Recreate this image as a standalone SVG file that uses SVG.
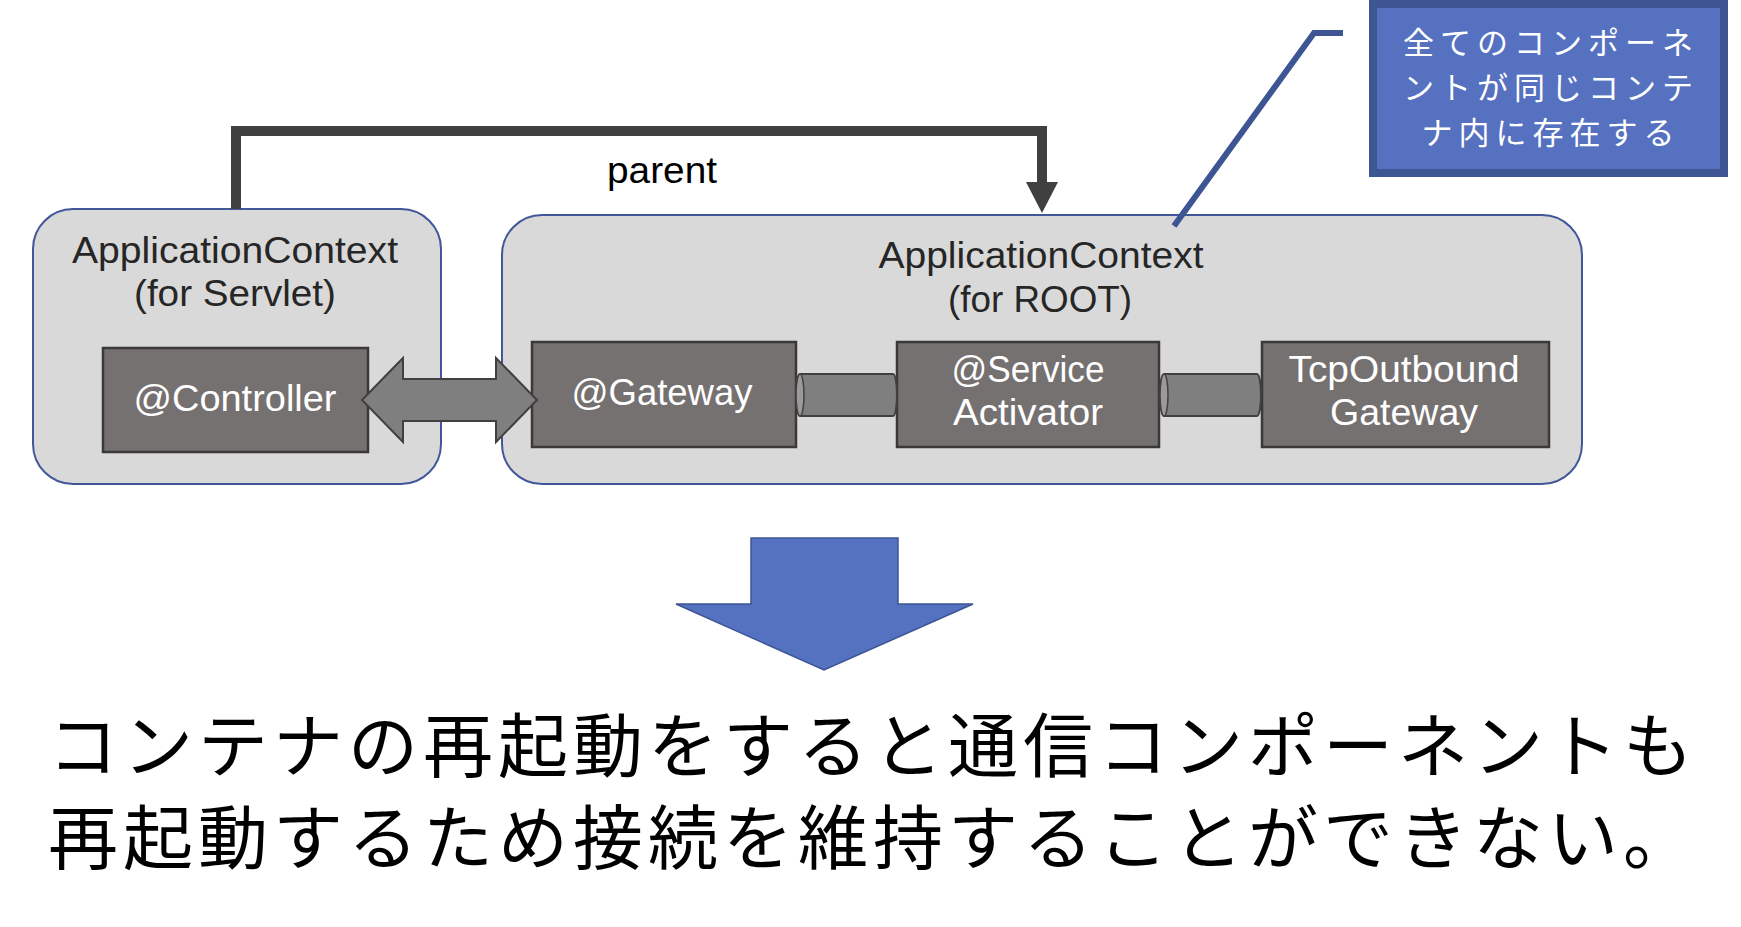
<svg xmlns="http://www.w3.org/2000/svg" width="1741" height="927" viewBox="0 0 1741 927">
<defs>
<style>
.ctx{fill:#D9D9D9;stroke:#41579A;stroke-width:2}
.comp{fill:#767171;stroke:#3B3838;stroke-width:2.5}
.t{font-family:"Liberation Sans",Arial,sans-serif;text-anchor:middle}
.dark{fill:#262626;font-size:36px}
.white{fill:#FFFFFF;font-size:36px}
.jp{font-family:"Noto Sans CJK JP",sans-serif}
.co{fill:#FFFFFF;font-size:31px;letter-spacing:6px}
.pipe{fill:#7F7F7F;stroke:#404040;stroke-width:2}
.cap{fill:#9A9A9A;stroke:#404040;stroke-width:1.5}
</style>
</defs>
<rect width="1741" height="927" fill="#FFFFFF"/>

<g id="ctx-servlet">
<rect class="ctx" x="33" y="209" width="408" height="275" rx="40" ry="40"/>
<text class="t dark" x="235" y="263" textLength="326" lengthAdjust="spacingAndGlyphs">ApplicationContext</text>
<text class="t dark" x="235" y="306" textLength="202" lengthAdjust="spacingAndGlyphs">(for Servlet)</text>
</g>

<g id="ctx-root">
<rect class="ctx" x="502" y="215" width="1080" height="269" rx="40" ry="40"/>
<text class="t dark" x="1041" y="268" textLength="325" lengthAdjust="spacingAndGlyphs">ApplicationContext</text>
<text class="t dark" x="1040" y="312" textLength="184" lengthAdjust="spacingAndGlyphs">(for ROOT)</text>
</g>

<g id="controller">
<rect class="comp" x="103" y="348" width="265" height="104"/>
<text class="t white" x="235" y="411" textLength="203" lengthAdjust="spacingAndGlyphs">@Controller</text>
</g>

<g id="gateway">
<rect class="comp" x="532" y="342" width="264" height="105"/>
<text class="t white" x="662" y="405" textLength="181" lengthAdjust="spacingAndGlyphs">@Gateway</text>
</g>

<g id="service-activator">
<rect class="comp" x="897" y="342" width="262" height="105"/>
<text class="t white" x="1028" y="382" textLength="153" lengthAdjust="spacingAndGlyphs">@Service</text>
<text class="t white" x="1028" y="425" textLength="150" lengthAdjust="spacingAndGlyphs">Activator</text>
</g>

<g id="tcp-outbound">
<rect class="comp" x="1262" y="342" width="287" height="105"/>
<text class="t white" x="1404" y="382" textLength="231" lengthAdjust="spacingAndGlyphs">TcpOutbound</text>
<text class="t white" x="1404" y="425" textLength="148" lengthAdjust="spacingAndGlyphs">Gateway</text>
</g>

<g id="callout">
<rect x="1373" y="4" width="351" height="169" fill="#5571C0" stroke="#3E5594" stroke-width="8"/>
<text class="t jp co" x="1551" y="54">全てのコンポーネ</text>
<text class="t jp co" x="1551" y="99">ントが同じコンテ</text>
<text class="t jp co" x="1551" y="144">ナ内に存在する</text>
</g>

<g id="connectors">
<path d="M236,209 V131 H1042 V184" fill="none" stroke="#404040" stroke-width="10"/>
<polygon points="1026,182 1058,182 1042,213" fill="#404040"/>
<text class="t" x="662" y="183" fill="#000000" font-size="37" textLength="110" lengthAdjust="spacingAndGlyphs">parent</text>
<path d="M1343,33 H1314 L1174,226" fill="none" stroke="#3E5594" stroke-width="6"/>
<polygon points="362,400 403,358 403,379 496,379 496,358 537,400 496,442 496,421 403,421 403,442" fill="#7F7F7F" stroke="#404040" stroke-width="2"/>
<path class="pipe" d="M800,374 H893 A4,21 0 0 1 893,416 H800 A4,21 0 0 1 800,374 Z"/>
<ellipse class="cap" cx="800" cy="395" rx="4" ry="21"/>
<path class="pipe" d="M1164,374 H1257 A4,21 0 0 1 1257,416 H1164 A4,21 0 0 1 1164,374 Z"/>
<ellipse class="cap" cx="1164" cy="395" rx="4" ry="21"/>
</g>

<g id="big-arrow">
<polygon points="751,538 898,538 898,604 973,604 824,670 676,604 751,604" fill="#5572C0" stroke="#3E5594" stroke-width="1.5"/>
</g>

<g id="conclusion">
<text class="jp" x="48" y="772" font-size="70" letter-spacing="5" fill="#000000">コンテナの再起動をすると通信コンポーネントも</text>
<text class="jp" x="48" y="864" font-size="70" letter-spacing="5" fill="#000000">再起動するため接続を維持することができない。</text>
</g>
</svg>
